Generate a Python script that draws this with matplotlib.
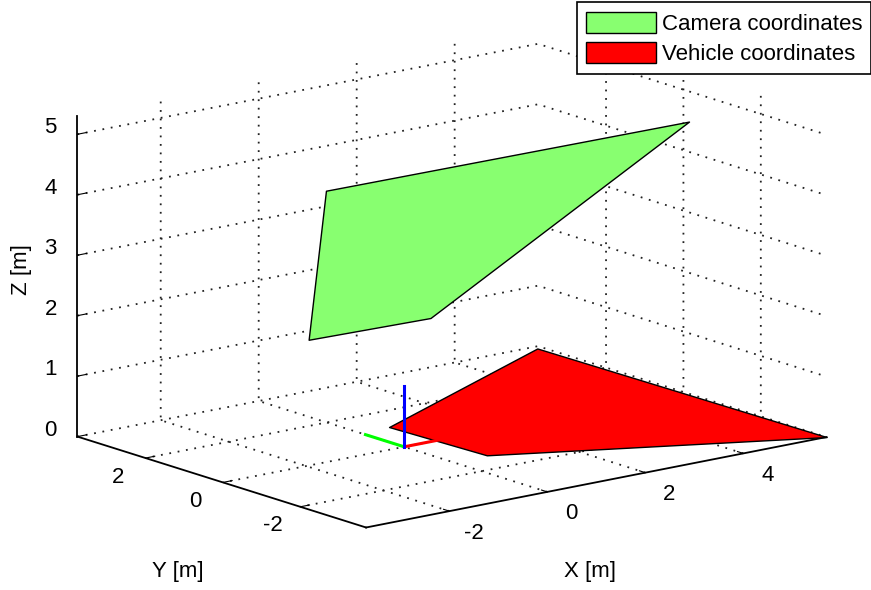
import numpy as np
import matplotlib
matplotlib.use("Agg")
import matplotlib.pyplot as plt
import matplotlib.transforms as mtransforms
from mpl_toolkits.mplot3d.art3d import Poly3DCollection

plt.rcParams['font.family'] = ['Liberation Sans', 'DejaVu Sans']
plt.rcParams['axes.unicode_minus'] = False

# ---- data ----
camera_x = [-3.65, 3.65, 1.2, -1.2]
camera_y = [-2.6, -2.74, 0.84, 0.95]
camera_z = [5.34, 5.35, 1.77, 1.77]

vehicle_x = [0.6, 5.6, 5.7, 0.7]
vehicle_y = [1.15, 3.65, -3.7, -1.25]
vehicle_z = [0.0, 0.0, 0.0, 0.0]

frame_origin = [0.0, 0.0, 0.0]
frame_len = 1.0

xlim = (-3.7, 5.7)
ylim = (-3.7, 3.76)
zlim = (0.0, 5.3)
xticks = [-2, 0, 2, 4]
yticks = [-2, 0, 2]
zticks = [0, 1, 2, 3, 4, 5]

labels = ['Camera coordinates', 'Vehicle coordinates']
colors = ['#88ff70', '#ff0000']

# ---- figure ----
W, H = 871, 590
fig = plt.figure(figsize=(W / 100, H / 100), dpi=100)
side = 590
cx, cy = 452.0, 313.4
f0 = 0.5135
ax = fig.add_axes([(cx - f0 * side) / W, (cy - f0 * side) / H, side / W, side / H],
                  projection='3d', computed_zorder=False)
ax.set_proj_type('ortho')
ax.view_init(elev=14.4, azim=-128.3)
ax.set_xlim(*xlim, view_margin=0)
ax.set_ylim(*ylim, view_margin=0)
ax.set_zlim(*zlim, view_margin=0)
ax.set_box_aspect((xlim[1] - xlim[0], ylim[1] - ylim[0], zlim[1] - zlim[0]), zoom=1.3475)
ax.set_xticks(xticks)
ax.set_yticks(yticks)
ax.set_zticks(zticks)
ax.tick_params(labelsize=16, pad=2)

for a in (ax.xaxis, ax.yaxis, ax.zaxis):
    a.pane.fill = False
    a.pane.set_edgecolor('none')
    a._axinfo['grid'].update(color='#222222', linewidth=1.3, linestyle=(0, (1, 3.7)))
    a._axinfo['tick']['inward_factor'] = 0.0
    a._axinfo['tick']['outward_factor'] = 0.25
    a._axinfo['axisline']['linewidth'] = 1.3
    a.line.set_linewidth(1.3)
    a.line.set_color('k')


def offset_ticklabels(axis, dx_px, dy_px):
    orig = axis.get_major_ticks
    off = mtransforms.ScaledTranslation(dx_px / 100, -dy_px / 100, fig.dpi_scale_trans)

    def wrapped(numticks=None):
        ticks = orig(numticks)
        for t in ticks:
            t.label1.set_transform(axis.axes.transData + off)
        return ticks
    axis.get_major_ticks = wrapped


offset_ticklabels(ax.xaxis, 11, -7)
offset_ticklabels(ax.yaxis, -7, -10)
offset_ticklabels(ax.zaxis, 7, -17)

veh = Poly3DCollection([list(zip(vehicle_x, vehicle_y, vehicle_z))],
                       facecolor=colors[1], edgecolor='k', linewidth=1.0, label=labels[1])
cam = Poly3DCollection([list(zip(camera_x, camera_y, camera_z))],
                       facecolor=colors[0], edgecolor='k', linewidth=1.0, label=labels[0])
ax.add_collection3d(veh)
ax.add_collection3d(cam)
veh.set_clip_on(False)
cam.set_clip_on(False)

o = frame_origin
for d, c in zip(range(3), ['#ff0000', '#00ff00', '#0000ff']):
    end = list(o)
    end[d] += frame_len
    ln, = ax.plot([o[0], end[0]], [o[1], end[1]], [o[2], end[2]], color=c, lw=2.2)
    ln.set_clip_on(False)

fig.text(590 / W, 1 - 572 / H, 'X [m]', fontsize=16, ha='center', va='center')
fig.text(178 / W, 1 - 572 / H, 'Y [m]', fontsize=16, ha='center', va='center')
fig.text(22 / W, 1 - 270 / H, 'Z [m]', fontsize=16, ha='center', va='center', rotation=90)

leg = fig.legend(handles=[cam, veh], labels=labels, loc='upper right',
                 bbox_to_anchor=(1.003, 1.0), borderaxespad=0.1, fancybox=False,
                 edgecolor='k', framealpha=1, handlelength=3.15, handleheight=1.13,
                 fontsize=16, borderpad=0.42, labelspacing=0.3, handletextpad=0.25)
leg.get_frame().set_linewidth(1.2)

fig.savefig('out.png', dpi=100)
